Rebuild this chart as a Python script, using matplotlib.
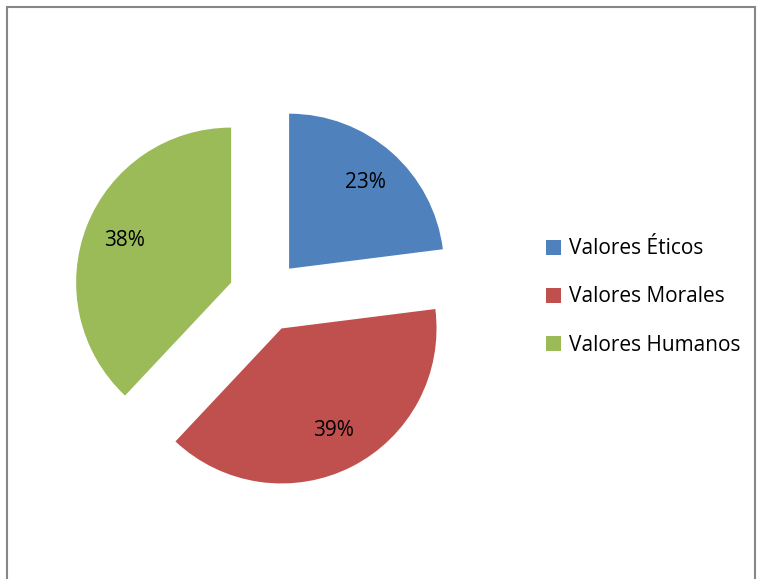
import matplotlib.pyplot as plt
from matplotlib.patches import Rectangle

# Datos del gráfico
categorias = ['Valores Éticos', 'Valores Morales', 'Valores Humanos']
porcentajes = [23, 39, 38]
colores = ['#4F81BD', '#C0504D', '#9BBB59']

plt.rcParams['font.family'] = ['Open Sans', 'DejaVu Sans']

W, H = 759, 579
fig = plt.figure(figsize=(W / 100, H / 100), dpi=100)

# centro y radio de la torta en píxeles
cx, cy, r = 265, 296, 155
ax = fig.add_axes([0, 0, 1, 1])
wedges, textos, autotextos = ax.pie(
    porcentajes, colors=colores, startangle=90, counterclock=False,
    explode=[0.235] * 3, autopct='%1.0f%%', pctdistance=0.74,
    textprops={'fontsize': 15, 'color': 'black'})
ax.set_aspect('auto')
ax.set_xlim(-cx / r, (W - cx) / r)
ax.set_ylim(-(H - cy) / r, cy / r)
ax.axis('off')

# marco del área del gráfico
fig.patches.append(Rectangle((7 / W, -0.05), (755 - 7) / W, (H - 7) / H + 0.05,
                             transform=fig.transFigure, fill=False,
                             edgecolor='#868686', linewidth=1.5))

fig.legend(wedges, categorias, loc='center left',
           bbox_to_anchor=(527 / W, 1 - 297 / H), frameon=False,
           fontsize=15, handlelength=0.75, handleheight=0.75,
           handletextpad=0.35, labelspacing=1.3)

fig.savefig('out.png', dpi=100)
